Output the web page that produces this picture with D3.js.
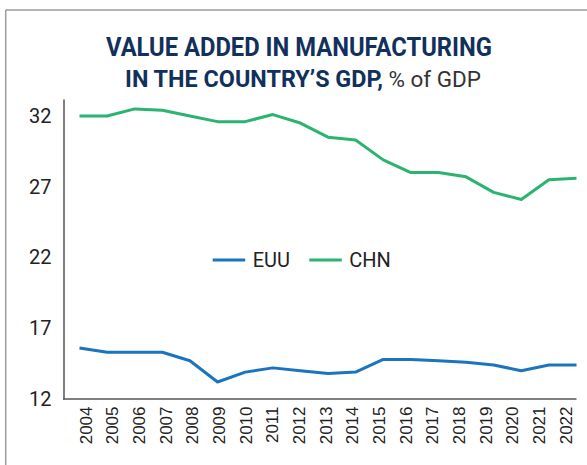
<!DOCTYPE html>
<html>
<head>
<meta charset="utf-8">
<script src="https://cdn.jsdelivr.net/npm/d3@7"></script>
<style>
  html, body { margin: 0; padding: 0; background: #ffffff; }
  svg { display: block; }
</style>
</head>
<body>
<svg id="chart" width="587" height="465"></svg>
<script>
// Manufacturing value added, % of GDP, by year
const years = [2004, 2005, 2006, 2007, 2008, 2009, 2010, 2011, 2012, 2013,
               2014, 2015, 2016, 2017, 2018, 2019, 2020, 2021, 2022];
const euuValues = [15.6, 15.3, 15.3, 15.3, 14.7, 13.2, 13.9, 14.2, 14.0, 13.8,
                   13.9, 14.8, 14.8, 14.7, 14.6, 14.4, 14.0, 14.4, 14.4];
const chnValues = [32.0, 32.0, 32.5, 32.4, 32.0, 31.6, 31.6, 32.1, 31.5, 30.5,
                   30.3, 28.9, 28.0, 28.0, 27.7, 26.6, 26.1, 27.5, 27.6];
const yTicks = [12, 17, 22, 27, 32];
const seriesNames = ["EUU", "CHN"];
const seriesColors = ["#1b74bd", "#2bb470"];

const narrow = "'Liberation Sans Narrow', 'Roboto', 'Liberation Sans', sans-serif";
const regular = "'Liberation Sans', Arial, sans-serif";

const svg = d3.select("#chart");

// panel frame: top and left rules
svg.append("line").attr("x1", 5.7).attr("x2", 587).attr("y1", 10).attr("y2", 10)
  .attr("stroke", "#9b9b9b").attr("stroke-width", 1.5);
svg.append("line").attr("x1", 5.7).attr("x2", 5.7).attr("y1", 10).attr("y2", 465)
  .attr("stroke", "#9b9b9b").attr("stroke-width", 1.5);

// title: two centred lines, the second one mixing a bold part and a plain unit
svg.append("text")
  .attr("x", 106).attr("y", 56.3)
  .attr("font-family", narrow).attr("font-weight", "bold").attr("font-size", 26)
  .attr("fill", "#12305c")
  .attr("textLength", 386).attr("lengthAdjust", "spacingAndGlyphs")
  .text("VALUE ADDED IN MANUFACTURING");

const title2 = svg.append("text")
  .attr("x", 303).attr("y", 87)
  .attr("text-anchor", "middle")
  .attr("font-family", narrow).attr("font-size", 26);
title2.append("tspan")
  .attr("font-weight", "bold").attr("fill", "#12305c")
  .text("IN THE COUNTRY\u2019S GDP,");
title2.append("tspan")
  .attr("font-size", 25).attr("fill", "#333333")
  .text(" % of GDP");
// scale the second line so it spans the same width as in the layout
const t2len = title2.node().getComputedTextLength();
if (t2len > 0) {
  const k = Math.max(0.88, Math.min(1.08, 356 / t2len));
  title2.attr("font-size", 26 * k);
  title2.select("tspan:last-child").attr("font-size", 25 * k);
}

// scales
const y = d3.scaleLinear().domain([12, 33.2]).range([399, 99]);
const x = d3.scalePoint().domain(years).range([79.5, 576.5]);
const xLabel = d3.scalePoint().domain(years).range([85, 565]);

// y axis
const yAxis = svg.append("g")
  .attr("transform", "translate(63.5,0)")
  .call(d3.axisLeft(y).tickValues(yTicks).tickSize(0).tickPadding(12).tickFormat(d3.format("d")));
yAxis.select(".domain").attr("stroke", "#555555").attr("stroke-width", 1.5);
yAxis.selectAll(".tick text")
  .attr("font-family", narrow).attr("font-size", 20).attr("fill", "#222222");

// x baseline
svg.append("line")
  .attr("x1", 63).attr("x2", x.range()[1])
  .attr("y1", y(12)).attr("y2", y(12))
  .attr("stroke", "#555555").attr("stroke-width", 1.5);

// x axis labels, rotated
const xAxis = svg.append("g")
  .attr("transform", `translate(0,${y(12)})`)
  .call(d3.axisBottom(xLabel).tickSize(0).tickFormat(d3.format("d")));
xAxis.select(".domain").remove();
xAxis.selectAll(".tick text")
  .attr("font-family", regular).attr("font-size", 17).attr("fill", "#222222")
  .attr("text-anchor", "end")
  .attr("transform", "translate(0,7.5) rotate(-90)")
  .attr("x", 0).attr("y", 0).attr("dy", "0.36em");

// series lines
const line = d3.line().x((d, i) => x(years[i])).y(d => y(d));
[euuValues, chnValues].forEach((vals, k) => {
  svg.append("path")
    .datum(vals)
    .attr("d", line)
    .attr("fill", "none")
    .attr("stroke", seriesColors[k])
    .attr("stroke-width", 3)
    .attr("stroke-linejoin", "round");
});

// legend
const legendItems = [
  { x: 212.7, label: seriesNames[0], color: seriesColors[0] },
  { x: 309.3, label: seriesNames[1], color: seriesColors[1] }
];
const legend = svg.append("g").attr("transform", "translate(0,260)");
legendItems.forEach(it => {
  legend.append("line")
    .attr("x1", it.x).attr("x2", it.x + 32.5).attr("y1", 0).attr("y2", 0)
    .attr("stroke", it.color).attr("stroke-width", 3);
  legend.append("text")
    .attr("x", it.x + 40).attr("y", 6.8)
    .attr("font-family", narrow).attr("font-size", 20).attr("fill", "#222222")
    .text(it.label);
});
</script>
</body>
</html>
